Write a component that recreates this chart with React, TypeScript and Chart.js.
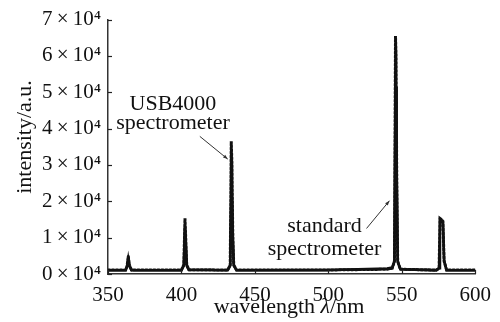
import React, { useEffect, useRef } from "react";
import { Chart, registerables } from "chart.js";

Chart.register(...registerables);

// wavelength samples (nm)
const wavelengths = [
  350, 362.0, 363.0, 363.8, 364.6, 366.0,
  400.0, 401.6, 402.4, 403.0, 403.6, 405.0,
  431.5, 433.2, 433.9, 434.4, 434.9, 435.6, 437.5,
  500, 540, 543.5, 545.0, 545.7, 546.1, 546.5, 547.2, 549.0,
  573.5, 575.4, 576.0, 577.0, 578.0, 578.8, 580.5, 600,
];

// USB4000 spectrometer intensity (a.u.)
const usb4000 = [
  1100, 1100, 2200, 4900, 2400, 1100,
  1100, 2500, 15300, 9000, 2500, 1200,
  1100, 2500, 36500, 30000, 12000, 2500, 1100,
  1100, 1300, 1600, 3500, 65500, 60000, 30000, 3500, 1300,
  1100, 1600, 15300, 15000, 14500, 3500, 1100, 1100,
];

// standard spectrometer intensity (a.u.)
const standard = [
  1000, 1000, 2000, 4200, 2200, 1000,
  1000, 2300, 13000, 8000, 2300, 1100,
  1000, 2300, 21000, 20500, 10000, 2300, 1000,
  1100, 1500, 1800, 3500, 52000, 51500, 28000, 3500, 1300,
  1000, 1600, 14800, 14500, 14000, 3800, 1000, 1000,
];

const xTicks = [350, 400, 450, 500, 550, 600];
const yTicks = [0, 10000, 20000, 30000, 40000, 50000, 60000, 70000];

// annotation anchors in data units
const usbLabel = { x: 394.2, lines: ["USB4000", "spectrometer"], ys: [45230, 39780] };
const usbArrow = { from: [412.5, 37870], to: [431.5, 31610] };
const stdLabel = { x: 497.4, lines: ["standard", "spectrometer"], ys: [11440, 5180] };
const stdArrow = { from: [526, 12530], to: [541.6, 20160] };

const FONT = "'Liberation Serif', 'Times New Roman', serif";

const overlay = {
  id: "overlay",
  afterDraw(chart: any) {
    const { ctx, chartArea } = chart;
    const xs = chart.scales.x;
    const ys = chart.scales.y;
    ctx.save();
    ctx.strokeStyle = "#222";
    ctx.lineWidth = 1.2;
    // inward ticks
    yTicks.forEach((v) => {
      const py = Math.round(ys.getPixelForValue(v)) + 0.5;
      ctx.beginPath();
      ctx.moveTo(chartArea.left, py);
      ctx.lineTo(chartArea.left + 4, py);
      ctx.stroke();
    });
    xTicks.forEach((v) => {
      const px = Math.round(xs.getPixelForValue(v)) + 0.5;
      ctx.beginPath();
      ctx.moveTo(px, chartArea.bottom);
      ctx.lineTo(px, chartArea.bottom - 4);
      ctx.stroke();
    });

    // annotations
    ctx.fillStyle = "#111";
    ctx.textAlign = "center";
    ctx.textBaseline = "alphabetic";
    ctx.font = `22px ${FONT}`;
    [usbLabel, stdLabel].forEach((l) => {
      const px = xs.getPixelForValue(l.x);
      l.lines.forEach((t, i) => ctx.fillText(t, px, ys.getPixelForValue(l.ys[i])));
    });
    [usbArrow, stdArrow].forEach((a) => {
      const x1 = xs.getPixelForValue(a.from[0]);
      const y1 = ys.getPixelForValue(a.from[1]);
      const x2 = xs.getPixelForValue(a.to[0]);
      const y2 = ys.getPixelForValue(a.to[1]);
      ctx.lineWidth = 1;
      ctx.strokeStyle = "#333";
      ctx.beginPath();
      ctx.moveTo(x1, y1);
      ctx.lineTo(x2, y2);
      ctx.stroke();
      const ang = Math.atan2(y2 - y1, x2 - x1);
      ctx.beginPath();
      ctx.moveTo(x2, y2);
      ctx.lineTo(x2 - 5 * Math.cos(ang - 0.35), y2 - 5 * Math.sin(ang - 0.35));
      ctx.lineTo(x2 - 5 * Math.cos(ang + 0.35), y2 - 5 * Math.sin(ang + 0.35));
      ctx.closePath();
      ctx.fillStyle = "#333";
      ctx.fill();
    });

    // axis titles
    ctx.fillStyle = "#111";
    const cx = 289;
    const t1 = "wavelength ";
    const t2 = "λ";
    const t3 = "/nm";
    ctx.font = `22px ${FONT}`;
    const w1 = ctx.measureText(t1).width;
    const w3 = ctx.measureText(t3).width;
    ctx.font = `italic 22px ${FONT}`;
    const w2 = ctx.measureText(t2).width;
    let sx = cx - (w1 + w2 + w3) / 2;
    const by = 313;
    ctx.textAlign = "left";
    ctx.font = `22px ${FONT}`;
    ctx.fillText(t1, sx, by);
    sx += w1;
    ctx.font = `italic 22px ${FONT}`;
    ctx.fillText(t2, sx, by);
    sx += w2;
    ctx.font = `22px ${FONT}`;
    ctx.fillText(t3, sx, by);

    ctx.translate(31, 137);
    ctx.rotate(-Math.PI / 2);
    ctx.textAlign = "center";
    ctx.fillText("intensity/a.u.", 0, 0);
    ctx.restore();
  },
};

export default function App() {
  const ref = useRef<HTMLCanvasElement>(null);
  useEffect(() => {
    if (!ref.current) return;
    const pts = (arr: number[]) => wavelengths.map((w, i) => ({ x: w, y: arr[i] }));
    const chart = new Chart(ref.current, {
      type: "line",
      data: {
        datasets: [
          {
            label: "USB4000 spectrometer",
            data: pts(usb4000),
            borderColor: "#111",
            borderWidth: 3,
            borderDash: [2, 2],
            borderCapStyle: "round",
            pointRadius: 0,
            tension: 0,
          },
          {
            label: "standard spectrometer",
            data: pts(standard),
            borderColor: "#111",
            borderWidth: 2.5,
            pointRadius: 0,
            tension: 0,
          },
        ],
      },
      options: {
        responsive: false,
        devicePixelRatio: 1,
        animation: false,
        events: [],
        layout: { padding: { top: 17, right: 24, left: 0, bottom: 0 } },
        plugins: { legend: { display: false }, tooltip: { enabled: false } },
        scales: {
          x: {
            type: "linear",
            min: 350,
            max: 600,
            afterFit: (s: any) => {
              s.height = 48;
            },
            afterBuildTicks: (s: any) => {
              s.ticks = xTicks.map((v) => ({ value: v }));
            },
            ticks: {
              color: "#111",
              font: { family: FONT, size: 21 },
              padding: 9,
              maxRotation: 0,
            },
            grid: { display: false, drawTicks: false },
            border: { display: true, color: "#333", width: 1.5 },
          },
          y: {
            type: "linear",
            min: 0,
            max: 70000,
            afterFit: (s: any) => {
              s.width = 108;
            },
            afterBuildTicks: (s: any) => {
              s.ticks = yTicks.map((v) => ({ value: v }));
            },
            ticks: {
              color: "#111",
              font: { family: FONT, size: 21 },
              padding: 7,
              callback: (v: any) => `${Number(v) / 10000}\u2009×\u200910⁴`,
            },
            grid: { display: false, drawTicks: false },
            border: { display: true, color: "#333", width: 1.5 },
          },
        },
      },
      plugins: [overlay],
    });
    return () => chart.destroy();
  }, []);
  return (
    <div style={{ position: "absolute", left: 0, top: 0, width: 500, height: 322, background: "#fff" }}>
      <canvas ref={ref} width={500} height={322} style={{ display: "block" }} />
    </div>
  );
}
